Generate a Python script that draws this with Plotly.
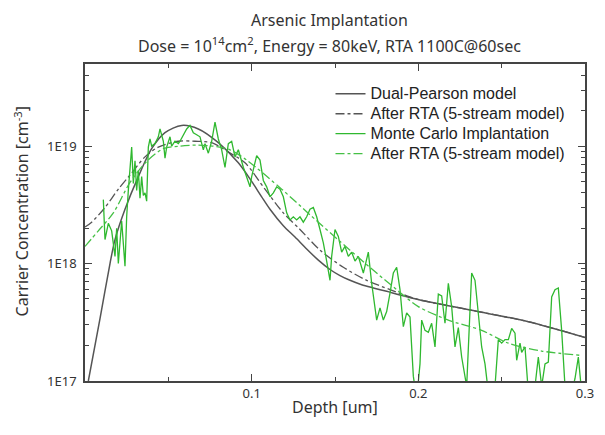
import plotly.graph_objects as go

# Dual-Pearson model (as-implanted)
dp_depth = [0.002, 0.009, 0.015, 0.018, 0.024, 0.032, 0.040, 0.048, 0.058, 0.068,
            0.080, 0.092, 0.100, 0.106, 0.111, 0.119, 0.126, 0.133, 0.140, 0.147,
            0.153, 0.159, 0.166, 0.173, 0.181, 0.189, 0.201, 0.232, 0.266, 0.300]
dp_conc = [1.0e17, 3.4e17, 1.0e18, 1.6e18, 2.9e18, 5.5e18, 9.5e18, 1.3e19, 1.5e19, 1.4e19,
           1.07e19, 7.2e18, 5.0e18, 3.7e18, 2.9e18, 2.1e18, 1.68e18, 1.33e18, 1.07e18, 8.9e17,
           7.9e17, 7.2e17, 6.6e17, 6.2e17, 5.8e17, 5.4e17, 4.9e17, 4.0e17, 3.2e17, 2.35e17]

# after RTA, from the Dual-Pearson profile
rta_depth = [0.000, 0.004, 0.012, 0.020, 0.028, 0.036, 0.044, 0.056, 0.066, 0.076,
             0.086, 0.096, 0.108, 0.119, 0.129, 0.141, 0.155, 0.169, 0.183, 0.195,
             0.201, 0.232, 0.266, 0.300]
rta_conc = [2.05e18, 2.25e18, 3.0e18, 4.3e18, 5.9e18, 8.1e18, 9.8e18, 1.1e19, 1.1e19, 1.07e19,
            8.9e18, 7.2e18, 4.3e18, 2.7e18, 1.95e18, 1.3e18, 9.3e17, 7.2e17, 6.0e17, 5.2e17,
            4.9e17, 4.0e17, 3.2e17, 2.35e17]

# Monte Carlo implantation
mc_depth = [0.011, 0.012, 0.014, 0.016, 0.018, 0.019, 0.020, 0.022, 0.024, 0.025,
            0.026, 0.028, 0.029, 0.030, 0.031, 0.032, 0.033, 0.034, 0.035, 0.036,
            0.037, 0.038, 0.039, 0.040, 0.042, 0.044, 0.045, 0.046, 0.047, 0.048,
            0.049, 0.051, 0.052, 0.054, 0.056, 0.057, 0.059, 0.061, 0.063, 0.065,
            0.067, 0.069, 0.071, 0.072, 0.074, 0.076, 0.078, 0.080, 0.082, 0.084,
            0.086, 0.088, 0.090, 0.092, 0.095, 0.097, 0.099, 0.100, 0.103, 0.105,
            0.107, 0.109, 0.111, 0.113, 0.115, 0.117, 0.119, 0.121, 0.123, 0.125,
            0.127, 0.129, 0.131, 0.133, 0.135, 0.137, 0.139, 0.141, 0.143, 0.145,
            0.147, 0.148, 0.150, 0.152, 0.154, 0.156, 0.158, 0.160, 0.162, 0.164,
            0.167, 0.170, 0.172, 0.175, 0.177, 0.179, 0.181, 0.183, 0.185, 0.187,
            0.189, 0.191, 0.193, 0.195, 0.197, 0.199, 0.201, 0.202, 0.204, 0.206,
            0.208, 0.210, 0.212, 0.214, 0.216, 0.218, 0.220, 0.222, 0.224, 0.226,
            0.229, 0.231, 0.232, 0.234, 0.236, 0.238, 0.240, 0.242, 0.244, 0.246,
            0.248, 0.250, 0.252, 0.254, 0.256, 0.258, 0.259, 0.261, 0.262, 0.264,
            0.266, 0.268, 0.270, 0.272, 0.274, 0.276, 0.278, 0.280, 0.282, 0.284,
            0.286, 0.288, 0.290, 0.292, 0.294, 0.296, 0.298, 0.300]
mc_conc = [3.5e18, 1.6e18, 2.2e18, 1.9e18, 1.15e18, 2.0e18, 1.0e18, 2.3e18, 9.5e17, 2.5e18,
           4.2e18, 9.8e18, 4.8e18, 7.5e18, 4.2e18, 6.2e18, 3.6e18, 5.5e18, 3.8e18, 4.0e18,
           3.4e18, 9.8e18, 1.15e19, 1.0e19, 1.05e19, 1.2e19, 1.4e19, 1.25e19, 1.1e19, 7.9e18,
           9.8e18, 1.2e19, 1.0e19, 1.1e19, 1.05e19, 1.1e19, 1.25e19, 1.4e19, 1.5e19, 1.3e19,
           1.25e19, 1.2e19, 9.3e18, 1.05e19, 8.7e18, 1.1e19, 1.6e19, 1.15e19, 9.3e18, 6.6e18,
           1.05e19, 1.1e19, 8.1e18, 9.3e18, 6.6e18, 5.5e18, 4.5e18, 5.5e18, 8.3e18, 7.6e18,
           5.1e18, 4.5e18, 3.7e18, 4.0e18, 4.5e18, 4.3e18, 3.7e18, 2.7e18, 2.35e18, 2.5e18,
           2.35e18, 2.5e18, 2.25e18, 2.5e18, 2.9e18, 3.0e18, 2.5e18, 1.95e18, 1.5e18, 1.05e18,
           7.2e17, 1.15e18, 1.95e18, 1.7e18, 1.25e18, 1.4e18, 1.15e18, 1.25e18, 1.05e18, 1.15e18,
           8.3e17, 1.25e18, 6.8e17, 3.3e17, 4.2e17, 3.3e17, 3.9e17, 5.6e17, 8.3e17, 9.3e17,
           6.0e17, 2.9e17, 3.8e17, 3.5e17, 1.1e17, 7e16, 1.4e17, 3.3e17, 2.7e17, 2.6e17,
           3.1e17, 1.95e17, 5.5e17, 5.3e17, 3.1e17, 6.8e17, 4.3e17, 1.95e17, 2.85e17, 1.6e17,
           9e16, 4.0e17, 8.3e17, 7.2e17, 3.9e17, 1.95e17, 1.4e17, 8e16, 7e16, 9e16,
           2.25e17, 2.1e17, 2.25e17, 2.25e17, 2.8e17, 2.55e17, 1.5e17, 2.1e17, 1.75e17, 1.95e17,
           8e16, 8e16, 9e16, 1.6e17, 9e16, 1.4e17, 1.45e17, 5.2e17, 6.0e17, 6.2e17,
           2.7e17, 9e16, 8e16, 8e16, 1.05e17, 1.6e17, 8e16, 8e16]

# after RTA, from the Monte Carlo profile
mc_rta_depth = [0.000, 0.008, 0.017, 0.027, 0.037, 0.047, 0.057, 0.067, 0.077, 0.087,
                0.097, 0.118, 0.135, 0.159, 0.175, 0.187, 0.200, 0.218, 0.238, 0.254,
                0.274, 0.298]
mc_rta_conc = [1.4e18, 1.9e18, 2.7e18, 4.9e18, 7.4e18, 9.5e18, 1.0e19, 1.02e19, 1.0e19, 9.3e18,
               7.6e18, 4.3e18, 2.6e18, 1.3e18, 8.3e17, 6.0e17, 4.3e17, 3.3e17, 2.7e17, 2.1e17,
               1.8e17, 1.65e17]

y_ticks = [1e17, 1e18, 1e19]
y_labels = ["1E17", "1E18", "1E19"]
x_ticks = [0.1, 0.2, 0.3]
x_labels = ["0.1", "0.2", "0.3"]


def lbl(s):
    # legend rows are spaced for a 13px font, text itself drawn at 16px
    return '<span style="font-size:16px">' + s + '</span>'


fig = go.Figure()
fig.add_trace(go.Scatter(x=dp_depth, y=dp_conc, mode="lines", line_shape="spline",
                         line_smoothing=0.8, name=lbl("Dual-Pearson model"),
                         line=dict(color="#555555", width=1.5)))
fig.add_trace(go.Scatter(x=rta_depth, y=rta_conc, mode="lines", line_shape="spline",
                         line_smoothing=0.8, name=lbl("After RTA (5-stream model)"),
                         line=dict(color="#555555", width=1.3, dash="dashdot")))
fig.add_trace(go.Scatter(x=mc_depth, y=mc_conc, mode="lines",
                         name=lbl("Monte Carlo Implantation"),
                         line=dict(color="#2fb82f", width=1.3)))
fig.add_trace(go.Scatter(x=mc_rta_depth, y=mc_rta_conc, mode="lines", line_shape="spline",
                         line_smoothing=0.8, name=lbl("After RTA (5-stream model)"),
                         line=dict(color="#45c045", width=1.3, dash="dashdot")))

axis_font = dict(family="Noto Sans", size=13, color="#333333")
title_font = dict(family="Noto Sans", size=16, color="#333333")

# page body has an 8px margin, so the figure is a bit smaller than the window
fig.update_layout(
    width=597, height=427,
    margin=dict(l=77, r=20, t=56, b=54, autoexpand=False),
    paper_bgcolor="white", plot_bgcolor="white",
    legend=dict(x=0.491, y=0.953, xanchor="left", yanchor="top",
                bgcolor="rgba(0,0,0,0)", tracegroupgap=0,
                font=dict(family="Liberation Sans", size=13, color="#222222")),
    showlegend=True,
    annotations=[
        dict(text="Arsenic Implantation", x=0.488, y=1.139, xref="paper", yref="paper",
             xanchor="center", yanchor="middle", showarrow=False, font=title_font),
        dict(text="Dose = 10<sup>14</sup>cm<sup>2</sup>, Energy = 80keV, RTA 1100C@60sec",
             x=0.488, y=1.06, xref="paper", yref="paper",
             xanchor="center", yanchor="middle", showarrow=False, font=title_font),
        dict(text="Depth [um]", x=0.5, y=-0.082, xref="paper", yref="paper",
             xanchor="center", yanchor="middle", showarrow=False, font=title_font),
        dict(text="Carrier Concentration [cm<sup>-3</sup>]", x=-0.126, y=0.535,
             xref="paper", yref="paper", textangle=-90,
             xanchor="center", yanchor="middle", showarrow=False, font=title_font),
    ],
)

fig.update_xaxes(range=[0.0, 0.3], tickvals=x_ticks, ticktext=x_labels, automargin=False,
                 ticks="inside", ticklen=7, tickcolor="#444444",
                 minor=dict(tickvals=[0.05, 0.15, 0.25], ticks="inside", ticklen=4, tickcolor="#444444"),
                 showline=True, linecolor="#444444", linewidth=1.5, mirror="ticks",
                 showgrid=False, zeroline=False, tickfont=axis_font)

minor_y = [m * 10.0 ** e for e in (17, 18, 19) for m in range(2, 10) if m * 10.0 ** e <= 5e19]
fig.update_yaxes(type="log", range=[17, 19.699], tickvals=y_ticks, ticktext=y_labels, automargin=False,
                 ticks="inside", ticklen=7, tickcolor="#444444", ticklabelstandoff=4,
                 minor=dict(tickvals=minor_y, ticks="inside", ticklen=4, tickcolor="#444444"),
                 showline=True, linecolor="#444444", linewidth=1.5, mirror="ticks",
                 showgrid=False, zeroline=False, tickfont=axis_font)

fig.write_html("out.html")
